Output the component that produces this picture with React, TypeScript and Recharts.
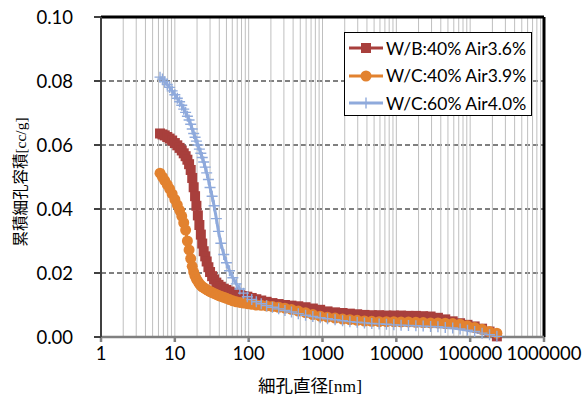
import { LineChart, Line, XAxis, YAxis, CartesianGrid, ReferenceLine } from "recharts";

// pore diameter [nm], shared by all three measurements
const poreDiameter = [
  6.3, 6.8, 7.3, 7.9, 8.5, 9.2, 10, 10.8, 11.6, 12.4, 13.2, 14, 14.8, 15.6, 16.4, 17.2, 18, 18.8, 19.6,
  20.5, 21.5, 22.5, 23.5, 24.6, 25.8, 27, 28.5, 30, 32, 34, 36.5, 39, 42, 46, 50, 55, 61, 68, 76, 85, 96,
  110, 127, 148, 175, 210, 255, 310, 380, 470, 590, 740, 930, 1170, 1480, 1870, 2350, 2950, 3700, 4650,
  5850, 7350, 9250, 11600, 14600, 18400, 23100, 29100, 36600, 46000, 58000, 73000, 92000, 115000, 145000,
  183000, 230000,
];

// W/B:40% Air3.6%
const wb40 = [
  0.0636, 0.0633, 0.063, 0.0625, 0.062, 0.0614, 0.0606, 0.0599, 0.0591, 0.0583, 0.0574, 0.0565, 0.0554,
  0.054, 0.0522, 0.0497, 0.0468, 0.044, 0.041, 0.038, 0.035, 0.032, 0.0292, 0.0268, 0.0252, 0.0236, 0.0218,
  0.0203, 0.019, 0.018, 0.017, 0.0163, 0.0157, 0.0151, 0.0147, 0.0142, 0.0138, 0.0134, 0.0131, 0.0128,
  0.0126, 0.0122, 0.0118, 0.0114, 0.011, 0.0106, 0.0103, 0.01, 0.0098, 0.0096, 0.0093, 0.0089, 0.0085,
  0.008, 0.0077, 0.0075, 0.0073, 0.0071, 0.0069, 0.0068, 0.0068, 0.0067, 0.0067, 0.0067, 0.0066, 0.0066,
  0.0065, 0.0064, 0.006, 0.0055, 0.0049, 0.0043, 0.0038, 0.0033, 0.0026, 0.0017, 0.0002,
];

// W/C:40% Air3.9%
const wc40 = [
  0.0512, 0.05, 0.0489, 0.0476, 0.0463, 0.0447, 0.043, 0.0413, 0.0396, 0.0378, 0.0357, 0.0334, 0.03,
  0.0272, 0.0245, 0.0221, 0.0203, 0.019, 0.0181, 0.0174, 0.0167, 0.0161, 0.0157, 0.0154, 0.0151, 0.0148,
  0.0145, 0.0142, 0.0139, 0.0136, 0.0133, 0.013, 0.0127, 0.0124, 0.0121, 0.0117, 0.0113, 0.011, 0.0108,
  0.0106, 0.0104, 0.0102, 0.01, 0.0099, 0.0097, 0.0095, 0.0093, 0.009, 0.0086, 0.0081, 0.0076, 0.007,
  0.0065, 0.0062, 0.0059, 0.0056, 0.0054, 0.0052, 0.005, 0.0049, 0.0048, 0.0048, 0.0048, 0.0047, 0.0047,
  0.0046, 0.0045, 0.0044, 0.0044, 0.0043, 0.0042, 0.004, 0.0035, 0.003, 0.0024, 0.0017, 0.0012,
];

// W/C:60% Air4.0%
const wc60 = [
  0.0812, 0.0806, 0.0798, 0.0789, 0.078, 0.0769, 0.0757, 0.0746, 0.0735, 0.0724, 0.0712, 0.0702, 0.069,
  0.0678, 0.0665, 0.065, 0.0636, 0.0624, 0.0612, 0.06, 0.0587, 0.0574, 0.0561, 0.0547, 0.0531, 0.0513,
  0.0492, 0.0467, 0.044, 0.041, 0.037, 0.033, 0.0293, 0.0258, 0.0232, 0.0207, 0.0185, 0.0166, 0.015,
  0.0137, 0.0126, 0.0117, 0.011, 0.0104, 0.0098, 0.0093, 0.0088, 0.0083, 0.0078, 0.0073, 0.0068, 0.0064,
  0.006, 0.0057, 0.0054, 0.0051, 0.0048, 0.0046, 0.0044, 0.0042, 0.0041, 0.004, 0.0038, 0.0037, 0.0036,
  0.0035, 0.0034, 0.0033, 0.0032, 0.003, 0.0028, 0.0025, 0.0021, 0.0017, 0.0012, 0.0007, 0.0002,
];

const seriesNames = ["W/B:40% Air3.6%", "W/C:40% Air3.9%", "W/C:60% Air4.0%"];
const xTicks = [1, 10, 100, 1000, 10000, 100000, 1000000];
const yTicks = [0, 0.02, 0.04, 0.06, 0.08, 0.1];

const RED = "#A83F3C";
const ORANGE = "#E2822F";
const BLUE = "#8FAADC";

const data = poreDiameter.map((d, i) => ({ d, wb40: wb40[i], wc40: wc40[i], wc60: wc60[i] }));

// light vertical lines at every 1..9 x decade
const gridX: number[] = [];
xTicks.slice(0, -1).forEach((dec) => {
  for (let m = 1; m <= 9; m++) if (!(m === 1 && dec === 1)) gridX.push(m * dec);
});

const squareDot = (p: any) => (
  <rect key={`s${p.index}`} x={p.cx - 5} y={p.cy - 5} width={10} height={10} fill={RED} />
);
const circleDot = (p: any) => <circle key={`c${p.index}`} cx={p.cx} cy={p.cy} r={5.5} fill={ORANGE} />;
const plusDot = (p: any) => (
  <path
    key={`p${p.index}`}
    d={`M${p.cx - 5.5},${p.cy}H${p.cx + 5.5}M${p.cx},${p.cy - 5.5}V${p.cy + 5.5}`}
    stroke={BLUE}
    strokeWidth={1.4}
  />
);

const LegendIcon = ({ i }: { i: number }) => (
  <svg width={36} height={14} style={{ display: "block" }}>
    <line x1={1} y1={7} x2={35} y2={7} stroke={[RED, ORANGE, BLUE][i]} strokeWidth={3} />
    {i === 0 && <rect x={13} y={2} width={10} height={10} fill={RED} />}
    {i === 1 && <circle cx={18} cy={7} r={5.5} fill={ORANGE} />}
    {i === 2 && <path d="M12.5,7H23.5M18,1.5V12.5" stroke={BLUE} strokeWidth={1.4} />}
  </svg>
);

const App = () => {
  const tickStyle = { fontSize: 18.5, fill: "#000", fontFamily: "Lato" };
  return (
    <div style={{ position: "absolute", left: 0, top: 0, width: 587, height: 398, background: "#fff" }}>
      <LineChart width={587} height={398} data={data} margin={{ top: 17, right: 43, bottom: 31, left: 41 }}>
        {gridX.map((x) => (
          <ReferenceLine key={x} x={x} stroke="#BFBFBF" strokeWidth={1} />
        ))}
        <CartesianGrid vertical={false} stroke="#000" strokeDasharray="5 3" />
        <XAxis
          dataKey="d"
          type="number"
          scale="log"
          domain={[1, 1000000]}
          ticks={xTicks}
          allowDataOverflow
          height={30}
          tick={tickStyle}
          tickSize={5}
          tickMargin={5}
          stroke="#808080"
          strokeWidth={2.5}
        />
        <YAxis
          type="number"
          domain={[0, 0.1]}
          ticks={yTicks}
          width={60}
          tick={tickStyle}
          tickFormatter={(v: number) => v.toFixed(2)}
          tickSize={7}
          tickMargin={21}
          stroke="#404040"
          strokeWidth={2}
        />
        <ReferenceLine y={0.1} stroke="#000" strokeWidth={3} />
        <ReferenceLine x={1000000} stroke="#000" strokeWidth={3} />
        <Line dataKey="wb40" stroke={RED} strokeWidth={3} dot={squareDot} isAnimationActive={false} />
        <Line dataKey="wc40" stroke={ORANGE} strokeWidth={3} dot={circleDot} isAnimationActive={false} />
        <Line dataKey="wc60" stroke={BLUE} strokeWidth={3} dot={plusDot} isAnimationActive={false} />
      </LineChart>

      <div
        style={{
          position: "absolute",
          left: 344,
          top: 32,
          width: 186,
          height: 82,
          border: "1px solid #000",
          background: "#fff",
          fontFamily: "Lato",
          fontSize: 17.5,
          color: "#000",
        }}
      >
        {seriesNames.map((name, i) => (
          <div
            key={name}
            style={{ position: "absolute", left: 3, top: 5 + i * 27.5, display: "flex", alignItems: "center", height: 20 }}
          >
            <LegendIcon i={i} />
            <span style={{ marginLeft: 2, whiteSpace: "nowrap" }}>{name}</span>
          </div>
        ))}
      </div>

      <div
        style={{
          position: "absolute",
          left: 19 - 100,
          top: 182 - 10,
          width: 200,
          height: 20,
          lineHeight: "20px",
          textAlign: "center",
          transform: "rotate(-90deg)",
          fontFamily: "Noto Sans CJK JP",
          fontSize: 15.5,
          color: "#000",
          whiteSpace: "nowrap",
        }}
      >
        累積細孔容積<span style={{ fontFamily: "Liberation Serif" }}>[cc/g]</span>
      </div>
      <div
        style={{
          position: "absolute",
          left: 310 - 100,
          top: 385 - 11,
          width: 200,
          height: 22,
          lineHeight: "22px",
          textAlign: "center",
          fontFamily: "Noto Sans CJK JP",
          fontSize: 17.5,
          color: "#000",
          whiteSpace: "nowrap",
        }}
      >
        細孔直径<span style={{ fontFamily: "Liberation Serif" }}>[nm]</span>
      </div>
    </div>
  );
};

export default App;
